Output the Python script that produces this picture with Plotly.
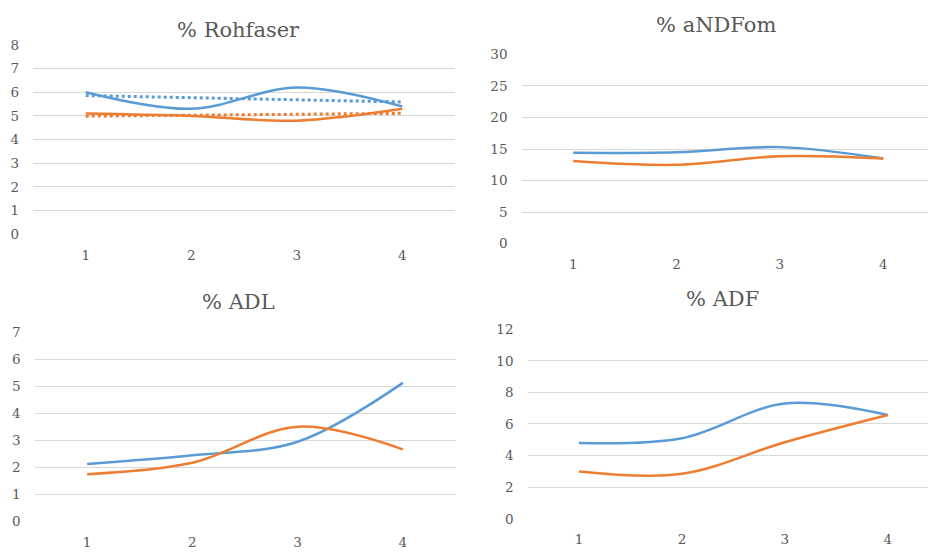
import numpy as np
import plotly.graph_objects as go

categories = [1, 2, 3, 4]
tick_labels = ["1", "2", "3", "4"]

rohfaser_blue = [6.0, 5.3, 6.2, 5.4]
rohfaser_orange = [5.1, 5.0, 4.8, 5.3]

andfom_blue = [14.4, 14.5, 15.3, 13.5]
andfom_orange = [13.1, 12.5, 13.85, 13.5]

adl_blue = [2.13, 2.45, 2.95, 5.13]
adl_orange = [1.75, 2.17, 3.51, 2.67]

adf_blue = [4.8, 5.1, 7.3, 6.57]
adf_orange = [3.0, 2.85, 4.85, 6.57]

titles = ["% Rohfaser", "% aNDFom", "% ADL", "% ADF"]

BLUE = "#5B9BD5"
ORANGE = "#ED7D31"
GRID = "#D9D9D9"
TXT = "#595959"
FONT = "DejaVu Serif"

W, H = 928, 555

panels = [
    dict(x0=33, x1=455, yt=38, yb=233, xr=[0.5, 4.5], yr=[0, 8], dt=1,
         blue=rohfaser_blue, orange=rohfaser_orange, trend=True,
         title=titles[0], tx=238, ty=23),
    dict(x0=521.5, x1=928, yt=47.7, yb=242.7, xr=[0.5, 4.433], yr=[0, 30], dt=5,
         blue=andfom_blue, orange=andfom_orange, trend=False,
         title=titles[1], tx=716, ty=18),
    dict(x0=34.5, x1=455.5, yt=334, yb=528.7, xr=[0.5, 4.5], yr=[0, 7], dt=1,
         blue=adl_blue, orange=adl_orange, trend=False,
         title=titles[2], tx=238, ty=303),
    dict(x0=527.5, x1=928, yt=330.7, yb=526, xr=[0.5, 4.39], yr=[0, 12], dt=2,
         blue=adf_blue, orange=adf_orange, trend=False,
         title=titles[3], tx=722, ty=300),
]

fig = go.Figure()
annotations = []
layout_axes = {}

for i, p in enumerate(panels, start=1):
    xa = "x" if i == 1 else f"x{i}"
    ya = "y" if i == 1 else f"y{i}"
    xkey = "xaxis" if i == 1 else f"xaxis{i}"
    ykey = "yaxis" if i == 1 else f"yaxis{i}"

    for vals, col in [(p["blue"], BLUE), (p["orange"], ORANGE)]:
        fig.add_trace(go.Scatter(
            x=categories, y=vals, mode="lines",
            line=dict(color=col, width=2.5, shape="spline", smoothing=1.0),
            xaxis=xa, yaxis=ya, showlegend=False, hoverinfo="skip"))
    if p["trend"]:
        for vals, col in [(p["blue"], BLUE), (p["orange"], ORANGE)]:
            k, b = np.polyfit(categories, vals, 1)
            xs = [categories[0], categories[-1]]
            fig.add_trace(go.Scatter(
                x=xs, y=[k * xs[0] + b, k * xs[1] + b], mode="lines",
                line=dict(color=col, width=3, dash="dot"),
                xaxis=xa, yaxis=ya, showlegend=False, hoverinfo="skip"))

    layout_axes[xkey] = dict(
        domain=[p["x0"] / W, p["x1"] / W], range=p["xr"], anchor=ya,
        tickmode="array", tickvals=categories, ticktext=tick_labels,
        showgrid=False, zeroline=False, showline=False, ticks="",
        tickfont=dict(family=FONT, size=13.5, color=TXT), ticklabelstandoff=11,
        fixedrange=True)
    layout_axes[ykey] = dict(
        domain=[(H - p["yb"]) / H, (H - p["yt"]) / H], range=p["yr"], anchor=xa,
        dtick=p["dt"], tick0=0, showgrid=True, gridcolor=GRID, gridwidth=1,
        zeroline=False, showline=False, ticks="",
        tickfont=dict(family=FONT, size=13.5, color=TXT), ticklabelstandoff=13,
        fixedrange=True)
    annotations.append(dict(
        text=p["title"], x=p["tx"] / W, y=(H - p["ty"]) / H, xref="paper", yref="paper",
        xanchor="center", yanchor="middle", showarrow=False,
        font=dict(family=FONT, size=21, color=TXT)))

fig.update_layout(
    width=W, height=H, margin=dict(l=0, r=0, t=0, b=0),
    paper_bgcolor="white", plot_bgcolor="white",
    annotations=annotations, **layout_axes)

fig.write_html("out.html", config={"displayModeBar": False})
